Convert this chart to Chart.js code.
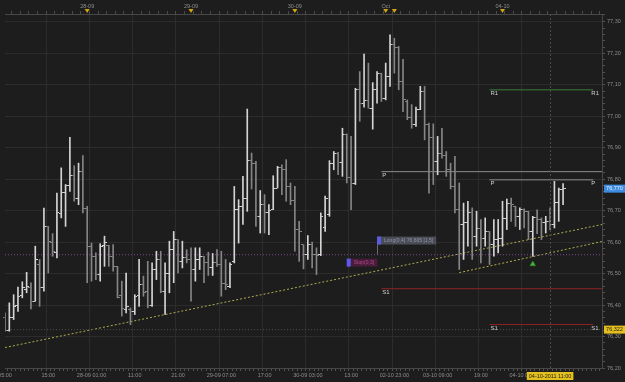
<!DOCTYPE html>
<html>
<head>
<meta charset="utf-8">
<style>
	html, body { margin: 0; padding: 0; background: #1d1d1d; }
</style>
</head>
<body>
<canvas id="myChart" width="625" height="382"></canvas>
<script src="https://cdn.jsdelivr.net/npm/chart.js"></script>
<script>
// hourly slots on the time axis (bars fill 0..129, the rest is empty space)
const slots = 139
const opens = [76.360,76.320,76.360,76.400,76.430,76.450,76.455,76.412,76.530,76.455,
	76.650,76.600,76.566,76.690,76.759,76.780,76.812,76.740,76.823,76.706,
	76.587,76.555,76.497,76.590,76.590,76.555,76.523,76.430,76.386,76.386,
	76.380,76.430,76.465,76.444,76.400,76.513,76.545,76.444,76.500,76.576,
	76.608,76.539,76.550,76.545,76.513,76.545,76.555,76.534,76.518,76.534,
	76.530,76.469,76.460,76.539,76.703,76.712,76.740,76.859,76.850,76.680,
	76.719,76.693,76.705,76.772,76.836,76.830,76.777,76.733,76.640,76.592,
	76.560,76.592,76.560,76.560,76.645,76.687,76.850,76.883,76.853,76.941,
	76.804,76.786,77.084,77.042,77.050,77.026,77.084,77.137,77.055,77.127,
	77.227,77.220,77.110,77.047,76.995,76.973,77.021,77.079,76.973,76.931,
	76.857,76.881,76.875,76.830,76.777,76.703,76.656,76.663,76.695,76.619,
	76.642,76.613,76.634,76.592,76.608,76.613,76.674,76.724,76.712,76.682,
	76.703,76.698,76.634,76.677,76.672,76.661,76.666,76.656,76.727,76.767]
const highs = [76.375,76.407,76.433,76.457,76.474,76.504,76.471,76.587,76.545,76.708,
	76.650,76.627,76.756,76.836,76.783,76.933,76.843,76.851,76.875,76.714,
	76.597,76.566,76.595,76.619,76.590,76.592,76.523,76.476,76.502,76.391,
	76.433,76.545,76.492,76.539,76.534,76.571,76.571,76.534,76.603,76.634,
	76.608,76.603,76.576,76.582,76.582,76.582,76.555,76.568,76.564,76.576,
	76.571,76.545,76.534,76.777,76.735,76.809,77.023,76.883,76.857,76.764,
	76.751,76.719,76.811,76.841,76.846,76.862,76.788,76.777,76.666,76.592,
	76.621,76.600,76.582,76.693,76.746,76.859,76.888,76.885,76.962,76.944,
	76.936,77.089,77.142,77.198,77.169,77.107,77.142,77.137,77.169,77.259,
	77.248,77.222,77.181,77.052,77.037,77.029,77.095,77.095,76.978,76.976,
	76.936,76.962,76.888,76.851,76.873,76.788,76.724,76.730,76.709,76.698,
	76.672,76.677,76.634,76.672,76.672,76.730,76.737,76.740,76.714,76.709,
	76.706,76.698,76.682,76.703,76.677,76.682,76.709,76.793,76.772,76.786]
const lows = [76.317,76.317,76.354,76.380,76.423,76.439,76.388,76.412,76.396,76.444,
	76.502,76.555,76.550,76.677,76.650,76.761,76.730,76.719,76.693,76.471,
	76.476,76.481,76.476,76.523,76.523,76.508,76.423,76.365,76.375,76.338,
	76.370,76.396,76.428,76.391,76.396,76.481,76.439,76.370,76.439,76.471,
	76.502,76.518,76.534,76.412,76.476,76.513,76.471,76.494,76.494,76.523,
	76.428,76.449,76.455,76.534,76.597,76.656,76.698,76.769,76.650,76.629,
	76.629,76.624,76.703,76.772,76.751,76.730,76.719,76.571,76.539,76.515,
	76.545,76.518,76.497,76.557,76.634,76.682,76.830,76.814,76.809,76.788,
	76.703,76.783,76.984,77.029,77.026,76.959,77.042,77.047,77.052,77.095,
	77.137,77.084,77.015,76.989,76.962,76.968,77.021,76.925,76.756,76.783,
	76.814,76.867,76.809,76.769,76.693,76.513,76.545,76.587,76.545,76.587,
	76.534,76.587,76.529,76.555,76.566,76.587,76.640,76.666,76.650,76.640,
	76.645,76.608,76.555,76.627,76.608,76.629,76.640,76.645,76.666,76.719]
const closes = [76.320,76.359,76.396,76.428,76.455,76.460,76.412,76.545,76.455,76.650,
	76.603,76.571,76.693,76.759,76.780,76.812,76.740,76.823,76.706,76.587,
	76.555,76.497,76.587,76.600,76.555,76.523,76.423,76.390,76.395,76.380,
	76.428,76.465,76.440,76.400,76.513,76.545,76.444,76.500,76.576,76.608,
	76.539,76.550,76.545,76.513,76.545,76.555,76.534,76.518,76.534,76.530,
	76.469,76.465,76.530,76.703,76.712,76.740,76.859,76.850,76.680,76.719,
	76.693,76.700,76.772,76.836,76.830,76.777,76.733,76.640,76.634,76.560,
	76.592,76.560,76.558,76.680,76.740,76.850,76.883,76.853,76.941,76.804,
	76.786,77.084,77.042,77.050,77.026,77.084,77.137,77.055,77.127,77.227,
	77.220,77.110,77.052,76.995,76.973,77.021,77.079,76.973,76.931,76.857,
	76.881,76.875,76.830,76.777,76.703,76.656,76.663,76.695,76.619,76.642,
	76.613,76.634,76.592,76.608,76.613,76.674,76.724,76.720,76.682,76.703,
	76.698,76.634,76.677,76.672,76.661,76.666,76.656,76.727,76.767,76.770]

// axis labels
const bottomTickIndex = [0,10,20,30,40,50,60,70,80,90,100,110,120]
const bottomTickText = ['05:00','15:00','28-09 01:00','11:00','21:00','29-09 07:00','17:00','30-09 03:00','13:00','02-10 23:00','03-10 09:00','19:00','04-10 05:00']
const topTickIndex = [19,43,67,88,115]
const topTickText = ['28-09','29-09','30-09','Oct','04-10']
const topMarkIndex = [19,43,67,88,90,115]
const cursorIndex = 126
const cursorText = '04-10-2011 11:00'

// pivot levels
const pivotText = ['R1','P','S1','P','S1']
const pivotValue = [77.084,76.798,76.338,76.824,76.452]
const pivotFrom = [112,112,112,87,87]
const pivotTo = [136,136,136,138,138]

// trend lines and horizontal markers
const trendFrom = [0,105]
const trendFromValue = [76.265,76.503]
const trendTo = [138,138]
const trendToValue = [76.656,76.602]
const entryLevel = 76.560
const alertLevel = 76.322
const arrowIndex = 122
const arrowValue = 76.530

// trade boxes
const tradeText = ['Long(0,4) 76,605 [1,5]','Stop(0,3)']
const tradeIndex = [86,79]
const tradeValue = [76.605,76.535]

const FONT = '"Liberation Sans", Arial, sans-serif'
const pivotColors = { R1: '#3c7d36', P: '#8c8c8c', S1: '#8e2424' }
const fmt = v => v.toFixed(2).replace('.', ',')
const fmt3 = v => v.toFixed(3).replace('.', ',')
const isMajor = v => Math.abs(v * 10 - Math.round(v * 10)) < 1e-6

const labels = [...Array(slots)].map((_, i) => i)
const up = closes.map((c, i) => c >= opens[i])

function tickImage(left, color){
	const c = document.createElement('canvas')
	c.width = 5; c.height = 1
	const g = c.getContext('2d')
	g.fillStyle = color
	g.fillRect(left ? 0 : 3, 0, 2, 1)
	return c
}
const upColor = '#d4d4d4', downColor = '#858585'
const openUp = tickImage(true, upColor), openDown = tickImage(true, downColor)
const closeUp = tickImage(false, upColor), closeDown = tickImage(false, downColor)

function segment(i0, v0, i1, v1){
	const d = new Array(slots).fill(null)
	d[i0] = v0; d[i1] = v1
	return d
}
function lineSet(data, color, dash){
	return { type: 'line', data: data, borderColor: color, borderWidth: 1, borderDash: dash || [],
		pointRadius: 0, spanGaps: true, order: 5 }
}

let datasets = []
// levels first so bars sit on top
datasets.push(lineSet(segment(0, entryLevel, slots - 1, entryLevel), '#7d4c8e', [1, 2]))
datasets.push(lineSet(segment(0, alertLevel, slots - 1, alertLevel), '#4e4e4e', [1, 2]))
for(let k = 0; k < trendFrom.length; k++){
	datasets.push(lineSet(segment(trendFrom[k], trendFromValue[k], trendTo[k], trendToValue[k]), '#aeac4e', [2, 2]))
}
for(let k = 0; k < pivotText.length; k++){
	datasets.push(lineSet(segment(pivotFrom[k], pivotValue[k], pivotTo[k], pivotValue[k]), pivotColors[pivotText[k]]))
}
// high-low range
datasets.push({
	type: 'bar',
	data: lows.map((l, i) => [l, highs[i]]),
	backgroundColor: up.map(u => u ? upColor : downColor),
	barThickness: 1,
	borderWidth: 0,
	order: 2
})
// open and close ticks
datasets.push({
	type: 'line', data: opens, showLine: false, pointRadius: 1, order: 1,
	pointStyle: ctx => up[ctx.dataIndex] ? openUp : openDown
})
datasets.push({
	type: 'line', data: closes, showLine: false, pointRadius: 1, order: 1,
	pointStyle: ctx => up[ctx.dataIndex] ? closeUp : closeDown
})
// signal arrow
const arrowData = new Array(slots).fill(null)
arrowData[arrowIndex] = arrowValue
datasets.push({
	type: 'line', data: arrowData, showLine: false, pointStyle: 'triangle', pointRadius: 3,
	backgroundColor: '#45c23c', borderColor: '#2f8a2a', borderWidth: 1, order: 0
})

const decor = {
	id: 'decor',
	beforeDraw(chart){
		const c = chart.ctx
		c.save()
		c.fillStyle = '#1d1d1d'
		c.fillRect(0, 0, chart.width, chart.height)
		c.restore()
	},
	afterDatasetsDraw(chart){
		const c = chart.ctx, x = chart.scales.x, y = chart.scales.y, a = chart.chartArea
		c.save()
		// crosshair
		const cx = Math.round(x.getPixelForValue(cursorIndex)) + 0.5
		c.strokeStyle = '#4a4a4a'; c.lineWidth = 1; c.setLineDash([2, 2])
		c.beginPath(); c.moveTo(cx, a.top); c.lineTo(cx, a.bottom); c.stroke()
		c.setLineDash([])
		// pivot labels
		c.font = '6px ' + FONT
		c.fillStyle = '#d0d0d0'
		c.textBaseline = 'top'
		for(let k = 0; k < pivotText.length; k++){
			const py = y.getPixelForValue(pivotValue[k]) + 1
			c.fillText(pivotText[k], x.getPixelForValue(pivotFrom[k]) + 1, py)
			if(pivotTo[k] < slots - 1) c.fillText(pivotText[k], x.getPixelForValue(pivotTo[k]) - 2, py)
		}
		// trade boxes
		c.font = '5px ' + FONT
		c.textBaseline = 'middle'
		const boxFill = ['#4a4c56', '#4b1c3b'], boxText = ['#8f94aa', '#b04c88']
		for(let k = 0; k < tradeText.length; k++){
			const bx = x.getPixelForValue(tradeIndex[k]), by = y.getPixelForValue(tradeValue[k])
			const w = c.measureText(tradeText[k]).width + 10
			if(k === 0){
				c.strokeStyle = '#6a6a6a'
				c.beginPath(); c.moveTo(Math.round(bx) + 0.5, by); c.lineTo(Math.round(bx) + 0.5, y.getPixelForValue(entryLevel)); c.stroke()
			}
			c.fillStyle = boxFill[k]; c.fillRect(bx, by - 4, w, 8)
			c.fillStyle = '#5b5be6'; c.fillRect(bx, by - 4, 4, 8)
			c.fillStyle = boxText[k]; c.fillText(tradeText[k], bx + 7, by)
		}
		c.restore()
	},
	afterDraw(chart){
		const c = chart.ctx, x = chart.scales.x, y = chart.scales.y, a = chart.chartArea
		c.save()
		c.font = '5.5px ' + FONT
		c.textBaseline = 'middle'
		c.textAlign = 'center'
		// price tags on the right axis
		const tag = (v, fill, ink) => {
			const ty = y.getPixelForValue(v)
			c.fillStyle = fill; c.fillRect(a.right + 2, ty - 4, 21, 8)
			c.fillStyle = ink; c.fillText(fmt3(v), a.right + 12.5, ty)
		}
		tag(alertLevel, '#e3c01d', '#1d1d1d')
		tag(closes[closes.length - 1], '#3d8ce0', '#e8f0ff')
		// time tag on the bottom axis
		const tx = x.getPixelForValue(cursorIndex)
		const tw = c.measureText(cursorText).width + 4
		c.fillStyle = '#e3c01d'; c.fillRect(tx - tw / 2, a.bottom + 4, tw, 8)
		c.fillStyle = '#1d1d1d'; c.fillText(cursorText, tx, a.bottom + 8)
		// day markers on the top axis
		c.fillStyle = '#d1a317'
		for(const i of topMarkIndex){
			const mx = x.getPixelForValue(i)
			c.beginPath(); c.moveTo(mx - 2.5, a.top - 5); c.lineTo(mx + 2.5, a.top - 5); c.lineTo(mx, a.top - 1); c.closePath(); c.fill()
		}
		c.restore()
	}
}

const ctx = document.getElementById('myChart').getContext('2d')
const myChart = new Chart(ctx, {
	type: 'bar',
	data: { labels: labels, datasets: datasets },
	options: {
		responsive: false,
		animation: false,
		events: [],
		layout: { padding: 0 },
		plugins: { legend: { display: false }, tooltip: { enabled: false } },
		scales: {
			x: {
				type: 'category',
				position: 'bottom',
				offset: false,
				grid: {
					color: g => bottomTickIndex.includes(g.index) ? '#2c2c2c' : 'rgba(0,0,0,0)',
					tickColor: '#505050',
					tickLength: 3
				},
				border: { color: '#474747' },
				ticks: {
					autoSkip: false, maxRotation: 0, padding: 1,
					color: '#8e8e8e', font: { size: 5.5, family: FONT },
					callback: (v, i) => {
						const k = bottomTickIndex.indexOf(i)
						return k >= 0 ? bottomTickText[k] : ''
					}
				},
				afterFit: s => { s.paddingLeft = 0; s.paddingRight = 0; s.height = 14 }
			},
			x2: {
				type: 'category',
				position: 'top',
				offset: false,
				grid: {
					drawOnChartArea: false,
					color: g => g.index % 2 === 0 ? '#4a4a4a' : 'rgba(0,0,0,0)',
					tickLength: 3
				},
				border: { color: '#474747' },
				ticks: {
					autoSkip: false, maxRotation: 0, padding: 1,
					color: '#8e8e8e', font: { size: 5.5, family: FONT },
					callback: (v, i) => {
						const k = topTickIndex.indexOf(i)
						return k >= 0 ? topTickText[k] : ''
					}
				},
				afterFit: s => { s.paddingLeft = 0; s.paddingRight = 0; s.height = 14 }
			},
			y: {
				position: 'right',
				min: 76.20,
				max: 77.325,
				grid: {
					color: g => isMajor(g.tick.value) ? '#2c2c2c' : 'rgba(0,0,0,0)',
					tickColor: '#505050',
					tickLength: 3
				},
				border: { color: '#474747' },
				ticks: {
					stepSize: 0.02, autoSkip: false, padding: 2,
					color: '#8e8e8e', font: { size: 5.5, family: FONT },
					callback: v => isMajor(v) ? fmt(v) : ''
				},
				afterFit: s => { s.width = 23 }
			}
		}
	},
	plugins: [decor]
})
</script>
</body>
</html>
